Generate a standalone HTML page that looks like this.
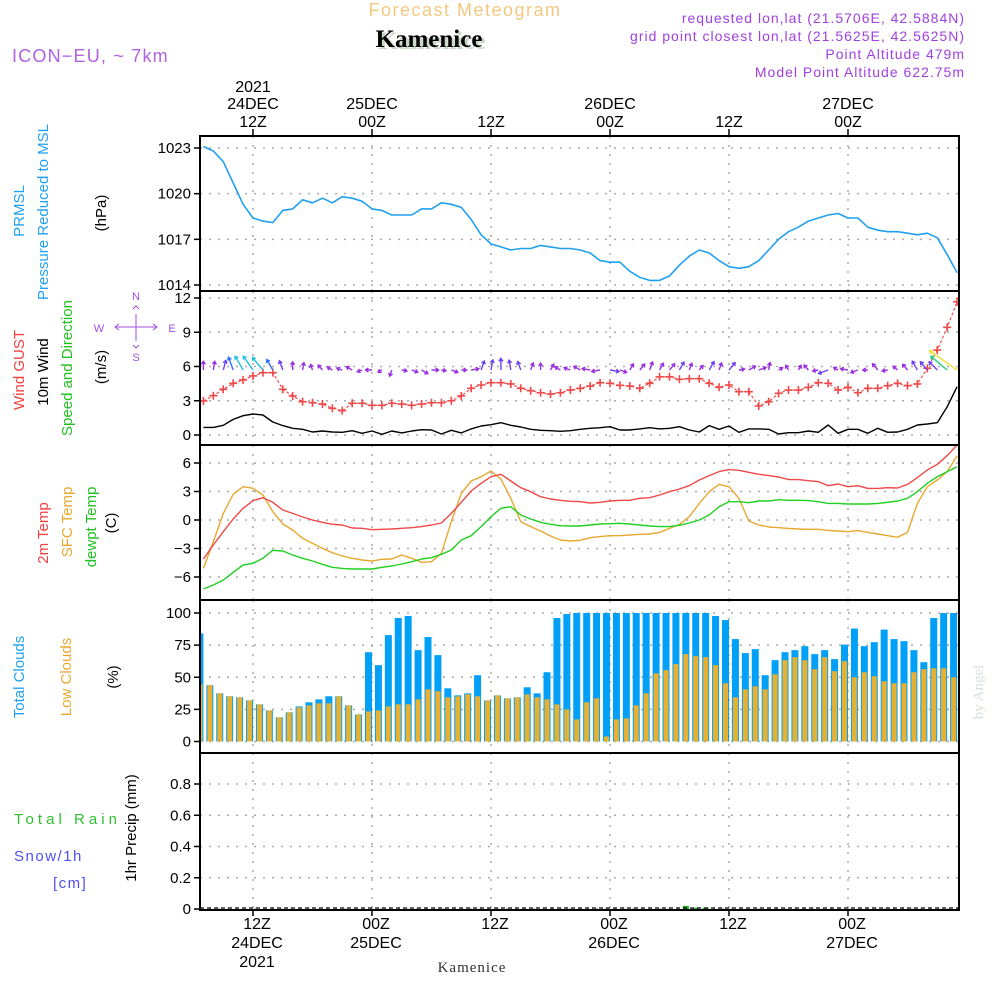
<!DOCTYPE html>
<html><head><meta charset="utf-8"><style>
html,body{margin:0;padding:0;background:#fff;}
svg{display:block;font-family:"Liberation Sans",sans-serif;}
</style></head><body>
<svg id="chart" width="1000" height="1000" viewBox="0 0 1000 1000" xmlns="http://www.w3.org/2000/svg">
<g id="header">
<text x="465" y="16" text-anchor="middle" font-size="18" fill="#f2c880" letter-spacing="1.5">Forecast Meteogram</text>
<text x="432" y="49" text-anchor="middle" font-size="25" font-weight="bold" font-family="Liberation Serif,serif" fill="#c8d8c8">Kamenice</text>
<text x="429" y="47" text-anchor="middle" font-size="25" font-weight="bold" font-family="Liberation Serif,serif" fill="#000">Kamenice</text>
<text x="12" y="62" font-size="18" fill="#b060e0" letter-spacing="1.2">ICON−EU, ~ 7km</text>
<g font-size="14" fill="#a040e0" text-anchor="end" letter-spacing="1">
<text x="965" y="23">requested lon,lat (21.5706E, 42.5884N)</text>
<text x="965" y="41">grid point closest lon,lat (21.5625E, 42.5625N)</text>
<text x="965" y="59">Point Altitude 479m</text>
<text x="965" y="77">Model Point Altitude 622.75m</text>
</g>
</g>
<g id="leftlabels" font-size="15">
<text transform="translate(24,211) rotate(-90)" text-anchor="middle" fill="#20a0f0">PRMSL</text>
<text transform="translate(48,212) rotate(-90)" text-anchor="middle" fill="#20a0f0">Pressure Reduced to MSL</text>
<text transform="translate(106,213) rotate(-90)" text-anchor="middle" fill="#000">(hPa)</text>
<text transform="translate(24,370) rotate(-90)" text-anchor="middle" fill="#f04040">Wind GUST</text>
<text transform="translate(48,372) rotate(-90)" text-anchor="middle" fill="#000">10m Wind</text>
<text transform="translate(72,368) rotate(-90)" text-anchor="middle" fill="#20c020">Speed and Direction</text>
<text transform="translate(106,367) rotate(-90)" text-anchor="middle" fill="#000">(m/s)</text>
<g fill="#a050e0" stroke="none" font-size="11" text-anchor="middle">
<text x="99" y="332">W</text>
<text x="172" y="332">E</text>
<text x="136" y="300">N</text>
<text x="136" y="361">S</text>
<g stroke="#a050e0" stroke-width="1" fill="none">
<path d="M116,327H156M136,314V341"/>
<path d="M119,324L115,327L119,330M153,324L157,327L153,330"/>
<path d="M133,309L136,306L139,309M133,345L136,348L139,345"/>
</g>
</g>
<text transform="translate(48,533) rotate(-90)" text-anchor="middle" fill="#f04040">2m Temp</text>
<text transform="translate(72,522) rotate(-90)" text-anchor="middle" fill="#e8a830">SFC Temp</text>
<text transform="translate(96,527) rotate(-90)" text-anchor="middle" fill="#20c020">dewpt Temp</text>
<text transform="translate(116,523) rotate(-90)" text-anchor="middle" fill="#000">(C)</text>
<text transform="translate(24,677) rotate(-90)" text-anchor="middle" fill="#20a0f0">Total Clouds</text>
<text transform="translate(71,677) rotate(-90)" text-anchor="middle" fill="#e8a830">Low Clouds</text>
<text transform="translate(118,677) rotate(-90)" text-anchor="middle" fill="#000">(%)</text>
<text x="14" y="824" fill="#30c030" textLength="103" lengthAdjust="spacing">Total   Rain</text>
<text x="14" y="861" fill="#5050f0" letter-spacing="1.5">Snow/1h</text>
<text x="53" y="888" fill="#5050f0" letter-spacing="1.5">[cm]</text>
<text transform="translate(136,828) rotate(-90)" text-anchor="middle" fill="#000">1hr Precip (mm)</text>
</g>
<text transform="translate(983,692) rotate(-90)" text-anchor="middle" font-size="15" font-family="Liberation Serif,serif" fill="#d8e0d8">by Angel</text>
<text x="472" y="972" text-anchor="middle" font-size="15" font-family="Liberation Serif,serif" fill="#333" letter-spacing="1">Kamenice</text>
<g id="plots"></g>
</svg>
<script>
const hours = [];
for (let h = 7; h <= 83; h++) hours.push(h);
const tickHours = [12,24,36,48,60,72];
const tickTimes = ['12Z','00Z','12Z','00Z','12Z','00Z'];
const tickDays = ['24DEC','25DEC','','26DEC','','27DEC'];
const pressure = [1023.1,1022.8,1022.1,1020.7,1019.3,1018.4,1018.2,1018.1,1018.9,1019.0,1019.6,1019.4,1019.7,1019.4,1019.8,1019.7,1019.5,1019.0,1018.9,1018.6,1018.6,1018.6,1019.0,1019.0,1019.4,1019.3,1019.1,1018.3,1017.3,1016.7,1016.5,1016.3,1016.4,1016.4,1016.6,1016.5,1016.4,1016.4,1016.3,1016.1,
1015.6,1015.5,1015.5,1014.9,1014.5,1014.3,1014.3,1014.6,1015.3,1015.9,1016.3,1016.1,1015.6,1015.2,1015.1,1015.2,1015.6,1016.3,1017.0,1017.5,1017.8,1018.2,1018.4,1018.6,1018.7,1018.4,1018.4,1017.8,1017.6,1017.5,1017.5,1017.4,1017.3,1017.4,1017.1,1016.0,1014.8];
const gust = [2.98,3.44,4.0,4.53,4.82,5.17,5.46,5.46,4.0,3.42,2.92,2.83,2.71,2.34,2.13,2.78,2.78,2.6,2.6,2.78,2.71,2.6,2.71,2.83,2.83,3.0,3.42,4.09,4.38,4.58,4.58,4.47,4.09,3.88,3.7,3.59,3.7,3.94,4.09,4.29,
4.58,4.53,4.35,4.29,4.09,4.53,5.1,5.1,4.88,4.93,4.93,4.53,4.18,4.38,3.79,3.79,2.54,2.92,3.65,3.94,3.94,4.18,4.58,4.53,3.94,4.18,3.7,4.09,4.09,4.32,4.53,4.32,4.47,5.84,7.44,9.43,11.67];
const windSpeed = [0.67,0.67,0.85,1.37,1.69,1.84,1.75,1.14,0.82,0.59,0.5,0.26,0.35,0.26,0.24,0.38,0.15,0.35,0.06,0.35,0.18,0.35,0.46,0.44,0.09,0.41,0.18,0.53,0.79,0.9,1.08,0.85,0.7,0.5,0.41,0.38,0.32,0.38,0.5,0.59,
0.64,0.73,0.44,0.44,0.53,0.64,0.53,0.59,0.73,0.44,0.26,0.82,0.5,0.79,0.24,0.53,0.53,0.5,0.09,0.2,0.2,0.35,0.24,0.88,0.15,0.5,0.5,0.15,0.59,0.24,0.26,0.5,0.88,0.96,1.08,2.48,4.23];
const windToDir = [0,10,15,340,330,325,320,330,340,0,10,340,320,300,290,300,250,270,240,200,100,110,120,90,100,110,90,80,20,10,0,350,340,20,0,30,300,290,300,280,260,100,110,30,40,20,30,40,30,20,40,30,20,40,80,60,70,10,60,330,30,320,260,250,300,280,250,270,320,260,310,320,330,320,315,310,305];
const temp2m = [-4.1,-2.63,-1.23,0.11,1.23,2.03,2.35,1.86,1.05,0.7,0.32,0,-0.24,-0.45,-0.53,-0.84,-0.87,-1.02,-0.98,-0.95,-0.87,-0.81,-0.7,-0.53,-0.32,0.7,1.86,3.05,3.86,4.56,4.81,4.11,3.4,2.98,2.45,2.21,2.07,1.97,1.93,1.79,
1.86,2.0,2.07,2.07,2.28,2.35,2.63,2.98,3.26,3.61,4.21,4.67,5.09,5.3,5.23,5.02,4.81,4.67,4.53,4.25,4.25,4.14,4.04,3.61,3.79,3.51,3.61,3.33,3.33,3.4,3.37,3.75,4.46,5.26,5.86,6.77,7.9];
const tempSfc = [-5.09,-2.28,0.7,2.71,3.51,3.34,2.63,0.88,-0.42,-1.05,-1.93,-2.46,-2.98,-3.44,-3.79,-4.03,-4.21,-4.32,-4.14,-4.11,-3.68,-4.03,-4.45,-4.39,-3.51,-0.18,2.81,4.11,4.56,5.16,4.32,2.28,-0.18,-0.7,-1.16,-1.68,-2.11,-2.21,-2.14,-1.86,
-1.75,-1.65,-1.65,-1.58,-1.51,-1.47,-1.3,-0.88,-0.46,0.35,1.75,2.98,3.75,3.51,2.28,-0.11,-0.53,-0.74,-0.81,-0.88,-0.95,-0.98,-0.98,-1.09,-1.16,-1.23,-1.12,-1.3,-1.47,-1.65,-1.82,-1.3,1.75,3.51,4.21,5.09,6.77];
const dewpt = [-7.26,-6.84,-6.32,-5.51,-4.74,-4.56,-4.03,-3.19,-3.26,-3.68,-4.03,-4.32,-4.66,-4.98,-5.09,-5.16,-5.16,-5.16,-4.98,-4.84,-4.63,-4.39,-4.11,-3.97,-3.61,-3.16,-2.11,-1.65,-0.7,0.35,1.23,1.4,0.53,0.11,-0.24,-0.45,-0.6,-0.63,-0.63,-0.53,
-0.42,-0.39,-0.35,-0.42,-0.53,-0.63,-0.7,-0.7,-0.56,-0.32,0.0,0.53,1.4,1.93,1.93,1.82,2.0,2.0,2.14,2.07,2.07,2.04,1.93,1.75,1.75,1.68,1.68,1.68,1.75,1.86,2.0,2.28,2.98,3.86,4.56,5.09,5.61];
const totalClouds = [84.1,43.8,37.5,35.2,34.4,32.0,28.9,24.2,18.8,22.7,27.3,30.5,32.8,35.2,35.2,28.1,21.1,69.5,59.4,82.8,96.1,97.7,71.1,81.3,67.2,41.4,35.9,37.5,51.6,32.0,35.9,33.6,34.4,42.2,37.5,53.9,96.1,99.2,100,100,
100,100,100,100,100,100,100,100,100,100,100,100,97.7,94.5,79.7,68.8,71.9,51.6,63.3,69.5,71.1,74.2,68.0,71.1,64.1,75.4,87.9,74.2,77.3,87.1,79.7,78.1,71.1,61.7,96.1,100,100];
const lowClouds = [44.5,43.8,37.5,35.2,34.4,32.0,28.9,24.2,18.8,22.7,26.6,28.1,29.7,29.7,35.2,28.1,21.1,23.4,24.2,27.3,28.9,28.9,32.8,40.6,39.1,34.4,35.2,36.7,35.2,32.0,35.9,33.6,34.4,36.7,34.4,32.8,28.9,25.0,17.2,30.5,
33.6,3.9,17.2,18.0,28.1,37.5,53.1,55.5,60.2,68.0,66.4,65.6,59.4,45.3,34.4,40.6,43.0,40.6,52.3,63.3,65.6,63.3,56.3,65.6,54.7,62.5,50.0,53.9,50.8,46.9,45.3,45.3,53.9,56.3,57.0,57.0,50.0];
const precip = [0,0,0,0,0,0,0,0,0,0,0,0,0,0,0,0,0,0,0,0,0,0,0,0,0,0,0,0,0,0,0,0,0,0,0,0,0,0,0,0,0,0,0,0,0,0,0,0,0,0.02,0.008,0.008,0,0,0,0,0,0,0,0,0,0,0,0,0,0,0,0,0,0,0,0,0,0,0,0,0];
const pressureTicks = [1014,1017,1020,1023];
const windTicks = [0,3,6,9,12];
const tempTicks = [-6,-3,0,3,6];
const cloudTicks = [0,25,50,75,100];
const precipTicks = [0,0.2,0.4,0.6,0.8];
const precipTickLabels = ['0','0.2','0.4','0.6','0.8'];

const NS='http://www.w3.org/2000/svg';
const root=document.getElementById('plots');
const L=200,R=959;
function xT(t){return 253+(t-12)*119/12;}
function mk(tag,attrs,parent){const e=document.createElementNS(NS,tag);for(const k in attrs)e.setAttribute(k,attrs[k]);(parent||root).appendChild(e);return e;}
function lin(v0,y0,v1,y1){return v=>y0+(v-v0)*(y1-y0)/(v1-v0);}
const panels=[
 {name:'pressure',top:136,bot:291,y:lin(1023,148,1014,285),ticks:pressureTicks,labels:pressureTicks.map(String)},
 {name:'wind',top:291,bot:445,y:lin(12,298,0,435),ticks:windTicks,labels:windTicks.map(String)},
 {name:'temp',top:445,bot:600,y:lin(6,463,-6,577),ticks:tempTicks,labels:tempTicks.map(v=>v<0?'−'+(-v):String(v))},
 {name:'clouds',top:600,bot:753,y:lin(100,613,0,741.5),ticks:cloudTicks,labels:cloudTicks.map(String)},
 {name:'precip',top:753,bot:910,y:lin(0.8,784,0,909),ticks:precipTicks,labels:precipTickLabels}
];
const defs=mk('defs',{});
panels.forEach(p=>{
 const cp=mk('clipPath',{id:'clip-'+p.name},defs);
 mk('rect',{x:L,y:p.top,width:R-L,height:p.bot-p.top},cp);
 const g=mk('g',{});
 
 
 p.g=g;
 const grid=mk('g',{stroke:'#aaa','stroke-width':1.5,'stroke-dasharray':'2,7'},g);
 
 
 p.ticks.forEach((v,i)=>{
  const y=p.y(v);
  mk('line',{x1:L,x2:R,y1:y,y2:y},grid);
  const tk=mk('line',{x1:L-6,x2:L,y1:y,y2:y,stroke:'#000','stroke-width':1.5},g);
  
  
  const tl=mk('text',{x:L-9,y:y+5,'text-anchor':'end','font-size':15,fill:'#000'},g);
  
  
  tl.textContent=p.labels[i];
 });
 tickHours.forEach(h=>{mk('line',{x1:xT(h),x2:xT(h),y1:p.top,y2:p.bot},grid);});
 p.plot=mk('g',{'clip-path':'url(#clip-'+p.name+')'},g);
});
function line(p,vals,color,w,name,dash){
 const d=vals.map((v,i)=>(i?'L':'M')+xT(hours[i]).toFixed(1)+','+p.y(v).toFixed(1)).join('');
 const e=mk('path',{d:d,fill:'none',stroke:color,'stroke-width':w,'stroke-linejoin':'round'},p.plot);
 if(dash)e.setAttribute('stroke-dasharray',dash);
 
 
 return e;
}
line(panels[0],pressure,'#20a0f0',1.6,'pressure-line');
const pw=panels[1];
line(pw,windSpeed,'#000',1.4,'wind-speed-line');
line(pw,gust,'#f04848',1.1,'gust-line','3,2');
gust.forEach((v,i)=>{
 const x=xT(hours[i]),y=pw.y(v);
 const m=mk('path',{d:`M${x-4},${y}H${x+4}M${x},${y-4}V${y+4}`,stroke:'#f04848','stroke-width':1.6},pw.plot);
 
 
});
function arrowColor(s){if(s<0.7)return '#9a30e0';if(s<1.1)return '#7040f0';if(s<1.5)return '#3070ff';if(s<1.9)return '#20c0e0';if(s<2.8)return '#20d080';if(s<3.6)return '#f0a030';return '#f0e030';}
windSpeed.forEach((s,i)=>{
 const x0=xT(hours[i]),y0=370;
 const len=4+s*7, a=windToDir[i]*Math.PI/180;
 const x1=x0+len*Math.sin(a), y1=y0-len*Math.cos(a);
 const h=3.5, ba=Math.atan2(y1-y0,x1-x0);
 const d=`M${x0.toFixed(1)},${y0}L${x1.toFixed(1)},${y1.toFixed(1)}M${(x1-h*Math.cos(ba-0.6)).toFixed(1)},${(y1-h*Math.sin(ba-0.6)).toFixed(1)}L${x1.toFixed(1)},${y1.toFixed(1)}L${(x1-h*Math.cos(ba+0.6)).toFixed(1)},${(y1-h*Math.sin(ba+0.6)).toFixed(1)}`;
 const e=mk('path',{d:d,fill:'none',stroke:arrowColor(s),'stroke-width':1.4},pw.plot);
 
 
});
const pt=panels[2];
line(pt,tempSfc,'#e8a830',1.4,'sfc-temp-line');
line(pt,temp2m,'#f04848',1.4,'temp-2m-line');
line(pt,dewpt,'#20d020',1.4,'dewpt-line');
const pc=panels[3];
totalClouds.forEach((v,i)=>{
 const x=xT(hours[i])-3.5;
 const b=mk('rect',{x:x-3.5,y:pc.y(v),width:7,height:pc.y(0)-pc.y(v),fill:'#00a0f8'},pc.plot);
 
 
 const lv=lowClouds[i];
 const c=mk('rect',{x:x-2.5,y:pc.y(lv),width:5,height:pc.y(0)-pc.y(lv),fill:'#e8b030'},pc.plot);
 
 
});
const pp=panels[4];
precip.forEach((v,i)=>{
 if(v<=0)return;
 const x=xT(hours[i])-3.5;
 const b=mk('rect',{x:x-3,y:pp.y(v),width:6,height:pp.y(0)-pp.y(v),fill:'#20b020'},pp.plot);
 
 
});
const base=mk('line',{x1:L,x2:R,y1:908,y2:908,stroke:'#000','stroke-width':1.2,'stroke-dasharray':'4,3'},pp.plot);


panels.forEach(p=>{
 const f=mk('rect',{x:L,y:p.top,width:R-L,height:p.bot-p.top,fill:'none',stroke:'#000','stroke-width':2},p.g);
 
 
});
const ax=mk('g',{'font-size':16,fill:'#000','text-anchor':'middle'});


tickHours.forEach((h,i)=>{
 const x=xT(h);
 mk('line',{x1:x,x2:x,y1:129,y2:136,stroke:'#000','stroke-width':1.5},ax);
 mk('line',{x1:x,x2:x,y1:910,y2:916,stroke:'#000','stroke-width':1.5},ax);
 const t1=mk('text',{x:x,y:127},ax);
 
 
 t1.textContent=tickTimes[i];
 const t2=mk('text',{x:x+4,y:929},ax);
 
 
 t2.textContent=tickTimes[i];
 if(tickDays[i]){
  const d1=mk('text',{x:x,y:109},ax);
  
  
  d1.textContent=tickDays[i];
  const d2=mk('text',{x:x+4,y:948},ax);
  
  
  d2.textContent=tickDays[i];
 }
});
const y1=mk('text',{x:xT(12),y:92},ax);


y1.textContent='2021';
const y2=mk('text',{x:xT(12)+4,y:967},ax);


y2.textContent='2021';
</script>
</body></html>
